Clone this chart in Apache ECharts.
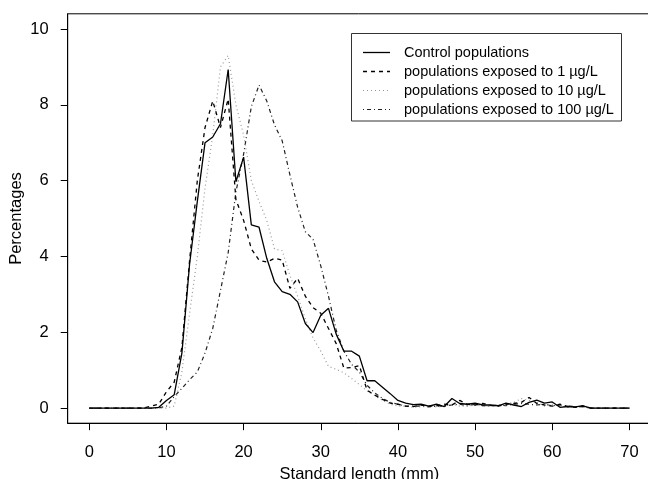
<!DOCTYPE html>
<html>
<head>
<meta charset="utf-8">
<script src="https://cdn.jsdelivr.net/npm/echarts@6/dist/echarts.min.js"></script>
<style>
html,body{margin:0;padding:0;background:#fff;}
#chart{width:648px;height:479px;}
</style>
</head>
<body>
<div id="chart"></div>
<script>
// Standard length (mm)
var lengths = [0,1,2,3,4,5,6,7,8,9,10,11,12,13,14,15,16,17,18,19,20,21,22,23,24,25,26,27,28,29,30,31,32,33,34,35,36,37,38,39,40,41,42,43,44,45,46,47,48,49,50,51,52,53,54,55,56,57,58,59,60,61,62,63,64,65,66,67,68,69,70];

var control = [0,0,0,0,0,0,0,0,0,0.02,0.2,0.35,1.45,3.8,5.45,7.0,7.15,7.5,8.93,5.97,6.62,4.83,4.77,3.95,3.33,3.07,3.0,2.8,2.23,1.99,2.45,2.63,1.95,1.5,1.5,1.37,0.72,0.72,0.55,0.38,0.2,0.13,0.09,0.1,0.05,0.1,0.04,0.25,0.12,0.1,0.13,0.08,0.08,0.06,0.13,0.08,0.04,0.15,0.21,0.13,0.16,0.02,0.04,0.03,0.06,0,0,0,0,0,0];

var dose1 = [0,0,0,0,0,0,0,0,0.05,0.1,0.43,0.68,1.6,3.9,6.0,7.4,8.1,7.4,8.15,5.5,4.95,4.2,3.9,3.85,3.95,3.9,3.16,3.42,2.95,2.65,2.5,2.1,1.7,1.05,1.07,1.12,0.47,0.34,0.23,0.13,0.1,0.05,0.04,0.08,0.05,0.06,0.1,0.08,0.2,0.1,0.08,0.12,0.07,0.05,0.1,0.12,0.15,0.28,0.12,0.08,0.05,0.1,0.04,0.02,0.05,0,0,0,0,0,0];

var dose10 = [0,0,0,0,0,0,0,0,0,0,0,0.05,0.95,2.5,4.0,5.8,7.2,9.0,9.3,8.0,7.2,6.0,5.45,4.95,4.2,4.15,3.5,2.95,2.35,1.85,1.5,1.1,1.02,0.93,0.78,0.62,0.45,0.33,0.2,0.1,0.05,0.05,0.02,0.03,0.05,0.03,0.05,0.1,0.05,0.05,0.08,0.05,0.05,0.08,0.1,0.15,0.25,0.2,0.15,0.05,0.1,0.05,0.03,0.02,0.02,0,0,0,0,0,0];

var dose100 = [0,0,0,0,0,0,0,0,0,0,0.05,0.3,0.52,0.75,0.95,1.45,2.1,3.1,4.1,5.7,6.7,7.95,8.52,8.1,7.47,7.05,6.15,5.3,4.65,4.45,3.75,2.95,2.05,1.5,1.15,0.95,0.6,0.4,0.25,0.15,0.1,0.05,0.05,0.05,0.03,0.05,0.05,0.08,0.1,0.06,0.1,0.06,0.05,0.08,0.06,0.1,0.12,0.1,0.08,0.1,0.06,0.08,0.05,0.04,0.03,0,0,0,0,0,0];

var seriesNames = ['Control populations','populations exposed to 1 \u00b5g/L','populations exposed to 10 \u00b5g/L','populations exposed to 100 \u00b5g/L'];
var xTicks = [0,10,20,30,40,50,60,70];
var yTicks = [0,2,4,6,8,10];

var FONT = '"Liberation Sans", Arial, Helvetica, sans-serif';
var styles = [
  {color:'#000', width:1.3, type:'solid'},
  {color:'#000', width:1.3, type:[4,4]},
  {color:'#999', width:1.2, type:[1,3]},
  {color:'#222', width:1.2, type:[1,3,4,3]}
];
var allData = [control, dose1, dose10, dose100];

function pairs(arr){ return lengths.map(function(x,i){ return [x, arr[i]]; }); }

var series = [];
for (var k = allData.length - 1; k >= 0; k--) {
  series.push({
    name: seriesNames[k], type:'line', data: pairs(allData[k]),
    showSymbol:false, symbol:'none', smooth:false, z: 10 - k,
    lineStyle: {color: styles[k].color, width: styles[k].width, type: styles[k].type},
    emphasis: {disabled:true}
  });
}

// legend drawn as graphic
var legendRows = [52.5, 71.5, 90.5, 109.5];
var graphics = [{
  type:'rect', shape:{x:351.5, y:33.5, width:270, height:87.5},
  style:{fill:'#fff', stroke:'#333', lineWidth:1}, z:100
}];
for (var i = 0; i < seriesNames.length; i++) {
  graphics.push({
    type:'line', shape:{x1:363, y1:legendRows[i], x2:390, y2:legendRows[i]},
    style:{stroke: styles[i].color, lineWidth: styles[i].width, lineDash: styles[i].type === 'solid' ? null : styles[i].type}, z:101
  });
  graphics.push({
    type:'text', x:404, y:legendRows[i], z:101,
    style:{text: seriesNames[i], fontSize:14.5, fontFamily: FONT, fill:'#000', verticalAlign:'middle', align:'left'}
  });
}

var chart = echarts.init(document.getElementById('chart'), null, {renderer:'canvas'});
chart.setOption({
  animation:false,
  backgroundColor:'#fff',
  grid:{left:67.7, top:13.8, width:583.3, height:409.4, show:true, borderColor:'#000', borderWidth:1, backgroundColor:'transparent', containLabel:false, outerBoundsMode:'none'},
  xAxis:{
    type:'value', min:-2.8, max:72.8,
    splitLine:{show:false},
    axisLine:{show:true, onZero:false, lineStyle:{color:'#000', width:1}},
    axisTick:{show:true, length:7, inside:false, customValues:xTicks, lineStyle:{color:'#000', width:1}},
    axisLabel:{show:true, customValues:xTicks, margin:21, fontSize:16.5, color:'#000', fontFamily:FONT},
    name:'Standard length (mm)', nameLocation:'middle', nameGap:43, nameMoveOverlap:false,
    nameTextStyle:{fontSize:16.5, color:'#000', fontFamily:FONT}
  },
  yAxis:{
    type:'value', min:-0.4, max:10.4,
    splitLine:{show:false},
    axisLine:{show:true, onZero:false, lineStyle:{color:'#000', width:1}},
    axisTick:{show:true, length:7, inside:false, customValues:yTicks, lineStyle:{color:'#000', width:1}},
    axisLabel:{show:true, customValues:yTicks, margin:19, fontSize:16.5, color:'#000', fontFamily:FONT},
    name:'Percentages', nameLocation:'middle', nameGap:43, nameRotate:90, nameMoveOverlap:false,
    nameTextStyle:{fontSize:16.5, color:'#000', fontFamily:FONT}
  },
  series: series,
  graphic: graphics
});
</script>
</body>
</html>
